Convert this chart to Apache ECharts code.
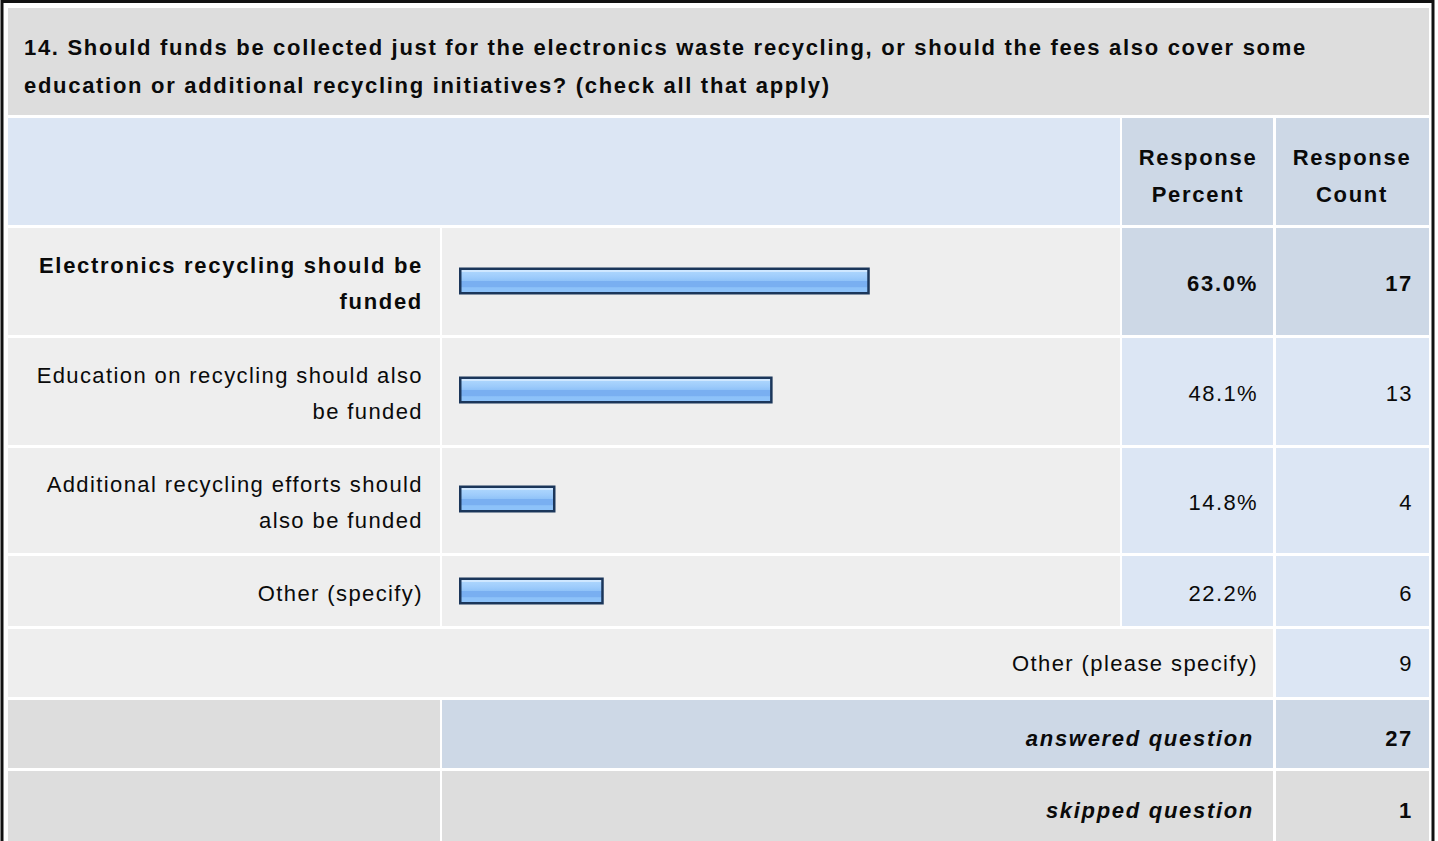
<!DOCTYPE html>
<html><head><meta charset="utf-8">
<script src="https://cdn.jsdelivr.net/npm/echarts@6/dist/echarts.min.js"></script>
<style>html,body{margin:0;padding:0;background:#fff;}#c{width:1438px;height:841px;}#c svg text{letter-spacing:1.4px;}#c svg text[style*="bold"]{letter-spacing:1.7px;}</style>
</head><body><div id="c"></div>
<script>
const title = "14. Should funds be collected just for the electronics waste recycling, or should the fees also cover some\neducation or additional recycling initiatives? (check all that apply)";
const headers = ["Response\nPercent", "Response\nCount"];
const categories = ["Electronics recycling should be\nfunded", "Education on recycling should also\nbe funded", "Additional recycling efforts should\nalso be funded", "Other (specify)"];
const percents = [63.0, 48.1, 14.8, 22.2];
const counts = [17, 13, 4, 6];
const otherLabel = "Other (please specify)";
const otherCount = 9;
const answeredLabel = "answered question";
const answered = 27;
const skippedLabel = "skipped question";
const skipped = 1;

const chart = echarts.init(document.getElementById('c'), null, {renderer:'svg'});
const FONT = 'Liberation Sans, Arial, sans-serif';
const rows = [
  {y:228,h:107},{y:338,h:107},{y:448,h:105},{y:556,h:70}
];
const G = [];
function rect(x,y,w,h,fill){G.push({type:'rect',shape:{x:x,y:y,width:w,height:h},style:{fill:fill},silent:true});}
function txt(t,x,y,align,opts){opts=opts||{};G.push({type:'text',silent:true,style:{text:t,x:x,y:y,textAlign:align,textVerticalAlign:'middle',font:(opts.italic?'italic ':'')+(opts.bold?'bold ':'')+'22px '+FONT,fill:'#0a0a0a',lineHeight:opts.lh||37},z:10});}

// outer border
G.push({type:'rect',shape:{x:2,y:1.5,width:1431,height:850},style:{fill:'none',stroke:'#111',lineWidth:3},silent:true});
// title
rect(8,8,1421,107,'#dddddd');
txt(title,24,66,'left',{bold:true,lh:38});
// header
rect(8,118,1112,107,'#dce6f4');
rect(1122,118,151,107,'#cdd8e6');
rect(1276,118,153,107,'#cdd8e6');
txt(headers[0],1198,176,'center',{bold:true});
txt(headers[1],1352,176,'center',{bold:true});
// data rows
rows.forEach(function(r,i){
  const bold = i===0;
  rect(8,r.y,432,r.h,'#eeeeee');
  rect(442,r.y,678,r.h,'#eeeeee');
  rect(1122,r.y,151,r.h,bold?'#cdd8e6':'#dce6f4');
  rect(1276,r.y,153,r.h,bold?'#cdd8e6':'#dce6f4');
  const cy = r.y + r.h/2 + 2;
  txt(categories[i],423,cy,'right',{bold:bold,lh:36});
  txt(percents[i].toFixed(1)+'%',1258,cy,'right',{bold:bold});
  txt(String(counts[i]),1413,cy,'right',{bold:bold});
});
// other
rect(8,629,1265,68,'#eeeeee');
rect(1276,629,153,68,'#dce6f4');
txt(otherLabel,1258,663,'right');
txt(String(otherCount),1413,663,'right');
// answered
rect(8,700,432,68,'#dddddd');
rect(442,700,831,68,'#cdd8e6');
rect(1276,700,153,68,'#cdd8e6');
txt(answeredLabel,1254,738,'right',{bold:true,italic:true});
txt(String(answered),1413,738,'right',{bold:true});
// skipped
rect(8,771,432,80,'#dddddd');
rect(442,771,831,80,'#dddddd');
rect(1276,771,153,80,'#dddddd');
txt(skippedLabel,1254,810,'right',{bold:true,italic:true});
txt(String(skipped),1413,810,'right',{bold:true});

const barFill = new echarts.graphic.LinearGradient(0,0,0,1,[
  {offset:0,color:'#cfe7ff'},{offset:0.14,color:'#cfe7ff'},
  {offset:0.15,color:'#aad4fd'},{offset:0.35,color:'#9dcbfb'},
  {offset:0.5,color:'#8fc2f8'},{offset:0.52,color:'#79aff1'},
  {offset:0.75,color:'#79aff1'},{offset:0.77,color:'#8dc2f9'},{offset:1,color:'#8dc2f9'}
]);
const barCenters = [281, 390, 499, 591];
const grids=[],xAxes=[],yAxes=[],series=[];
percents.forEach(function(p,i){
  grids.push({left:459,width:652,top:barCenters[i]-16,height:32});
  xAxes.push({type:'value',gridIndex:i,min:0,max:100,show:false});
  yAxes.push({type:'category',gridIndex:i,data:[categories[i]],show:false});
  series.push({type:'bar',xAxisIndex:i,yAxisIndex:i,data:[p],barWidth:27,silent:true,animation:false,
    itemStyle:{color:barFill,borderColor:'#1b365a',borderWidth:2.5}});
});

chart.setOption({
  animation:false,
  grid:grids,xAxis:xAxes,yAxis:yAxes,series:series,
  graphic:{elements:G}
});
</script></body></html>
